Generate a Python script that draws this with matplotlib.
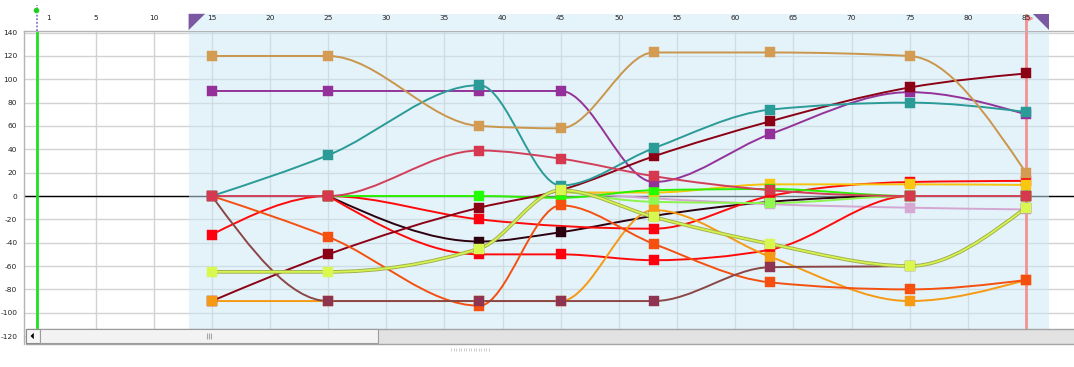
import numpy as np
import matplotlib
matplotlib.use('Agg')
import matplotlib.pyplot as plt
from matplotlib.path import Path
from matplotlib.patches import PathPatch, Rectangle, Polygon
import matplotlib.patheffects as pe

plt.rcParams['axes.unicode_minus'] = False

# x positions of the data points
x_pos = [15, 25, 38, 45, 53, 63, 75, 85]

# series values (None = no point)
black        = [None, 0, -39, -31, -17, -5, 0, 0]
lilac        = [None, None, None, 4, -2, -7, -10, -11.5]
red_b        = [None, 0, -50, -50, -55, -46, 0, 0]
red_a        = [-33, 0, -20, None, -28, 0, 12, 13]
gold         = [None, None, None, 3, 3, 10, 10, 9.5]
green        = [None, 0, 0, -1.5, 5, 6, 0, 0]
light_green  = [None, None, None, 5, -5, -6, 0, 0]
purple       = [90, 90, 90, 90, 12, 53, 89, 70]
dark_red     = [-90, -50, -10, 5, 34, 64, 93, 105]
orange       = [-90, -90, -90, -90, -12, -52, -90, -72]
orange_red   = [0, -35, -94, -8, -41, -74, -80, -72]
brown        = [0, -90, -90, -90, -90, -61, -60, -10]
teal         = [0, 35, 95, 9, 41, 74, 80, 72]
tan          = [120, 120, 60, 58, 123, 123, 120, 20]
yellow_green = [-65, -65, -45, 5, -18, -41, -60, -10]
crimson      = [0, 0, 39, 32, 17, 5, 0, 0]

y_ticks = list(range(-120, 141, 20))
top_ticks = [1] + list(range(5, 90, 5))

# draw order, bottom to top: (values, line colour, marker colour)
series = [
    (black, '#2d0010', '#2d0010'),
    (lilac, '#d4a6d2', '#d8a8d4'),
    (red_b, '#ff0a0a', '#ff0010'),
    (red_a, '#ff0a0a', '#ff0010'),
    (gold, '#f6c40c', '#f8c810'),
    (green, '#2cf000', '#22ff00'),
    (light_green, '#8cf44c', '#90f850'),
    (purple, '#93339a', '#93309a'),
    (dark_red, '#8c0016', '#8c0016'),
    (orange, '#f59a12', '#f59a12'),
    (orange_red, '#f45010', '#f55010'),
    (brown, '#8b4646', '#8e3450'),
    (teal, '#2b9b98', '#2b9b98'),
    (tan, '#c9964c', '#d39c52'),
    (yellow_green, '#d6f450', '#d8f850'),
    (crimson, '#d1405a', '#d6384f'),
]


def monotone_path(x, y):
    """d3 curveMonotoneX as cubic bezier path."""
    x = np.asarray(x, float)
    y = np.asarray(y, float)
    n = len(x)
    if n == 2:
        return Path([(x[0], y[0]), (x[1], y[1])], [Path.MOVETO, Path.LINETO])
    h = np.diff(x)
    s = np.diff(y) / h
    t = np.zeros(n)
    for i in range(1, n - 1):
        h0, h1, s0, s1 = h[i - 1], h[i], s[i - 1], s[i]
        p = (s0 * h1 + s1 * h0) / (h0 + h1)
        t[i] = (np.sign(s0) + np.sign(s1)) * min(abs(s0), abs(s1), 0.5 * abs(p))
    t[0] = (3 * s[0] - t[1]) / 2
    t[-1] = (3 * s[-1] - t[-2]) / 2
    verts = [(x[0], y[0])]
    codes = [Path.MOVETO]
    for i in range(n - 1):
        dx = (x[i + 1] - x[i]) / 3
        verts += [(x[i] + dx, y[i] + dx * t[i]),
                  (x[i + 1] - dx, y[i + 1] - dx * t[i + 1]),
                  (x[i + 1], y[i + 1])]
        codes += [Path.CURVE4] * 3
    return Path(verts, codes)


W, H = 1074, 367
fig = plt.figure(figsize=(W / 100, H / 100), dpi=100)
fig.set_facecolor('white')


def box(x0, y0, x1, y1):
    return [x0 / W, 1 - y1 / H, (x1 - x0) / W, (y1 - y0) / H]


x0_px, px_per_unit = 37.4, 11.63
xlim = ((23.5 - x0_px) / px_per_unit, (1074 - x0_px) / px_per_unit)

ax = fig.add_axes(box(23.5, 31, 1074, 344))
ax.set_xlim(*xlim)
ax.set_ylim(-126.8, 141.4)
ax.set_facecolor('white')
ax.set_axisbelow(True)
ax.set_yticks(y_ticks)
ax.set_xticks(list(range(5, 90, 5)))
ax.grid(True, color='#d2d2d2', lw=1)
ax.tick_params(axis='x', length=0, labelbottom=False)
ax.tick_params(axis='y', length=0, pad=4.5, labelsize=5.4, labelcolor='#222222')
for s in ['right', 'bottom']:
    ax.spines[s].set_visible(False)
for s in ['left', 'top']:
    ax.spines[s].set_color('#b4b4b4')
    ax.spines[s].set_linewidth(1)

ax.axhline(0, color='black', lw=1, zorder=1.5)
ax.axvline(0, color='#22dd22', lw=2, zorder=1.6)
ax.axvspan(13, 87, color='#cce7f5', alpha=0.52, lw=0, zorder=2)
ax.axvline(85, color='#f39292', lw=2, zorder=2.5)

for i, (vals, lc, mc) in enumerate(series):
    xv = [x for x, v in zip(x_pos, vals) if v is not None]
    yv = [v for v in vals if v is not None]
    patch = PathPatch(monotone_path(xv, yv), fill=False, edgecolor=lc,
                      lw=1.4, zorder=3 + i * 0.01, capstyle='round')
    if vals is yellow_green:
        patch.set_path_effects([pe.Stroke(linewidth=2.6, foreground='#9fae4a'),
                                pe.Normal()])
        patch.set_linewidth(1.3)
    ax.add_patch(patch)
    ax.plot(xv, yv, ls='none', marker='s', ms=7.6, mfc=mc, mec=mc, mew=0.3,
            zorder=4 + i * 0.01)

# header strip with the top scale
hy0, hy1 = 3, 31
head = fig.add_axes(box(23.5, hy0, 1074, hy1))
head.set_xlim(*xlim)
head.set_ylim(0, 1)
head.axis('off')
shade_top = (hy1 - 13.8) / (hy1 - hy0)
head.add_patch(Rectangle((13, 0), 74, shade_top, color='#e5f3fa', lw=0))
tri_w = 16.5 / px_per_unit
head.add_patch(Polygon([(13, shade_top), (13 + tri_w, shade_top), (13, 0.03)],
                       closed=True, color='#7a59a2', lw=0))
head.add_patch(Polygon([(87 - tri_w, shade_top), (87, shade_top), (87, 0.03)],
                       closed=True, color='#7a59a2', lw=0))
for v in top_ticks:
    head.text(v, (hy1 - 18) / (hy1 - hy0), str(v), ha='center', va='center',
              fontsize=5.3, color='#222222')
head.plot([0, 0], [0, (hy1 - 5) / (hy1 - hy0)], ls=(0, (1, 1)), color='#7a7ad0', lw=1.3)
head.plot([-0.1], [(hy1 - 9.6) / (hy1 - hy0)], marker='o', ms=3, color='#22cc22')
head.plot([85, 85], [0, (hy1 - 14.5) / (hy1 - hy0)], color='#f39292', lw=2)
head.plot([85.25], [(hy1 - 18) / (hy1 - hy0)], marker='>', ms=4, color='#f39292')

# scrollbar overlay (pixel coordinates)
ov = fig.add_axes([0, 0, 1, 1])
ov.set_xlim(0, W)
ov.set_ylim(H, 0)
ov.axis('off')
ov.add_patch(Rectangle((25.5, 328.5), 1049, 15, fc='#e2e2e2', ec='#a4a4a4', lw=1))
ov.add_patch(Rectangle((26, 329), 13.5, 14, fc='#f7f7f7', ec='#8c8c8c', lw=0.8))
ov.add_patch(Polygon([(30.5, 336), (33.8, 332.8), (33.8, 339.2)], closed=True,
                     color='black', lw=0))
ov.add_patch(Rectangle((39.5, 329), 338.5, 14, fc='#f3f3f3', ec='#9c9c9c', lw=0.8))
ov.vlines([206.5, 208.5, 210.5], 333, 339, color='#a8a8a8', lw=0.8)
ov.vlines(np.arange(451, 491, 2.5), 347.5, 351, color='#c4c4c4', lw=0.6)

fig.savefig('out.png', dpi=100)
